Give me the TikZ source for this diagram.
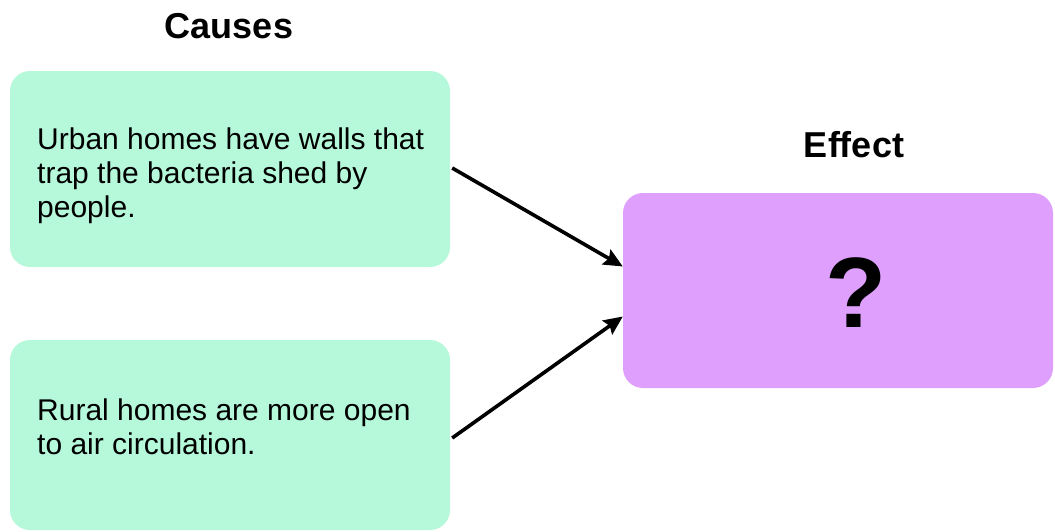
\documentclass[tikz,border=0pt]{standalone}
\usepackage{fontspec}
\setmainfont{Liberation Sans}
\usetikzlibrary{arrows.meta,positioning,calc}
\definecolor{causegreen}{HTML}{B5F8DA}
\definecolor{effectpink}{HTML}{DE9FFD}
\tikzset{>={Stealth[length=19pt,width=17pt,inset=3pt]}}

\begin{document}
\begin{tikzpicture}[x=1pt,y=-1pt,
  cause/.style={fill=causegreen, rounded corners=20pt, minimum width=440pt, inner sep=0pt},
  effect/.style={fill=effectpink, rounded corners=20pt, minimum width=430pt, minimum height=195pt, inner sep=0pt},
  causetext/.style={align=left, inner sep=0pt, font=\fontsize{30}{34}\selectfont},
  heading/.style={inner sep=0pt, font=\fontsize{36}{40}\selectfont\bfseries},
  link/.style={->, line width=3.6pt}]
\useasboundingbox (0,0) rectangle (1055,531);
% boxes
\node[cause, minimum height=196pt] (c1) at (230,169) {};
\node[cause, minimum height=190pt] (c2) at (230,435) {};
\node[effect] (eff) at (838,290.5) {};
\node[inner sep=0pt, font=\fontsize{100}{100}\selectfont\bfseries] (q) at ($(eff.center)+(18,2)$) {?};
% headings
\node[heading, anchor=base] (causes) at (229,38) {Causes};
\node[heading, anchor=base] (effhead) at (854,157) {Effect};
% texts (base = last line)
\node[causetext, anchor=base west] (t1) at (37,217) {Urban homes have walls that\\trap the bacteria shed by\\people.};
\node[causetext, anchor=base west] (t2) at (37,454) {Rural homes are more open\\to air circulation.};
% arrows
\draw[link] ($(c1.east)+(2,-1)$) -- ($(eff.west)+(0,-24)$);
\draw[link] ($(c2.east)+(2,3)$) -- ($(eff.west)+(0,26)$);
\end{tikzpicture}
\end{document}
